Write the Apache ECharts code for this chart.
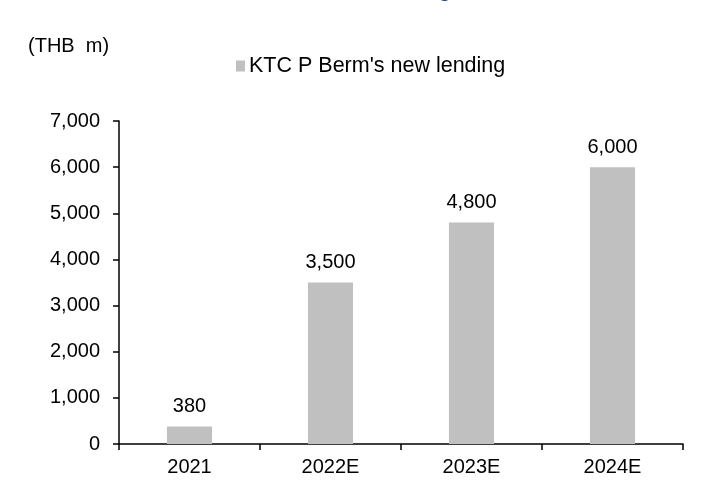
<!DOCTYPE html>
<html><head><meta charset="utf-8">
<script src="https://cdn.jsdelivr.net/npm/echarts@6/dist/echarts.min.js"></script>
<style>html,body{margin:0;padding:0;background:#fff}#c{width:723px;height:497px}</style>
</head><body><div id="c"></div>
<script>
const categories = ['2021', '2022E', '2023E', '2024E'];
const lendingValues = [380, 3500, 4800, 6000];
const seriesName = "KTC P Berm's new lending";
const unitLabel = '(THB  m)';

const chart = echarts.init(document.getElementById('c'), null, {renderer: 'canvas'});
const font = 'Liberation Sans, Arial, sans-serif';
chart.setOption({
  animation: false,
  backgroundColor: '#fff',
  graphic: [
    {type: 'text', left: 28, top: 36, style: {text: unitLabel, font: '20px ' + font, fill: '#000'}},
    {type: 'text', right: 272, top: -19, style: {text: seriesName, font: 'bold 20px ' + font, fill: '#1F3F77'}}
  ],
  legend: {
    data: [seriesName], left: 231, top: 50, itemWidth: 9, itemHeight: 11, itemGap: 4,
    icon: 'rect', textStyle: {fontFamily: font, fontSize: 21.5, color: '#000', padding: [0, 0, 0, -1]}
  },
  grid: {left: 119, right: 40, top: 121, bottom: 53, containLabel: false},
  xAxis: {
    type: 'category', data: categories,
    axisLine: {lineStyle: {color: '#000', width: 1.5}},
    axisTick: {show: true, length: 6, lineStyle: {color: '#000', width: 1.5}},
    axisLabel: {color: '#000', fontFamily: font, fontSize: 20, margin: 13}
  },
  yAxis: {
    type: 'value', min: 0, max: 7000, interval: 1000,
    splitLine: {show: false},
    axisLine: {show: true, lineStyle: {color: '#000', width: 1.5}},
    axisTick: {show: true, length: 6, lineStyle: {color: '#000', width: 1.5}},
    axisLabel: {color: '#000', fontFamily: font, fontSize: 20, margin: 19,
      formatter: v => v.toLocaleString('en-US')}
  },
  series: [{
    name: seriesName, type: 'bar', data: lendingValues, barWidth: '32%',
    itemStyle: {color: '#C0C0C0'},
    label: {show: true, position: 'top', distance: 10, color: '#000', fontFamily: font, fontSize: 20,
      formatter: p => p.value.toLocaleString('en-US')}
  }]
});
</script></body></html>
